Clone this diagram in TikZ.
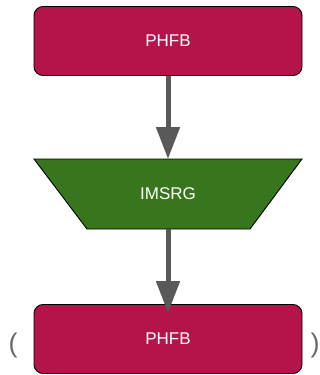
\documentclass[tikz,border=0pt]{standalone}
\usepackage{fontspec}
\setmainfont{Liberation Sans}
\usetikzlibrary{arrows.meta}
\definecolor{boxred}{HTML}{B5144A}
\definecolor{boxgreen}{HTML}{38761D}
\definecolor{arrowgray}{HTML}{595959}
\definecolor{pargray}{HTML}{6A6A6A}
\begin{document}
\begin{tikzpicture}[x=1pt,y=-1pt,
  redbox/.style={draw=black, line width=0.9pt, fill=boxred, rounded corners=9pt,
    minimum width=268pt, minimum height=69pt, inner sep=0pt,
    text=white, font=\fontsize{17}{20}\selectfont},
  lbl/.style={text=white, font=\fontsize{17}{20}\selectfont, inner sep=0pt},
  flow/.style={draw=arrowgray, line width=5pt,
    -{Triangle[width=23pt,length=32pt]}},
  paren/.style={text=pargray, font=\fontsize{27}{30}\selectfont, inner sep=0pt}
]
\useasboundingbox (0,0) rectangle (320,375);
\node[redbox] (ph1) at (168,41) {PHFB};
\draw[black, line width=0.9pt, fill=boxgreen]
  (34,159) coordinate (imstop) -- (302,159) -- (250,229) -- (87,229) coordinate (imsbl) -- cycle;
\coordinate (imsbot) at (168,229);
\node[lbl] (ims) at (168,194) {IMSRG};
\node[redbox] (ph2) at (168,339) {PHFB};
\coordinate (t1) at (168,159);
\coordinate (t2) at (168,313);
\draw[flow] (ph1.south) -- (t1);
\draw[flow] (imsbot) -- (t2);
\node[paren] (lp) at (13,346) {(};
\node[paren] (rp) at (315,346) {)};
\end{tikzpicture}
\end{document}
